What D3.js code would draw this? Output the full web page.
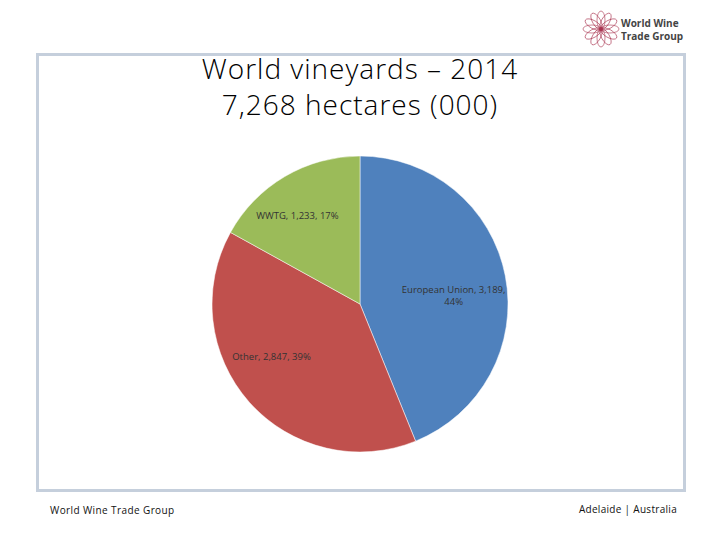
<!DOCTYPE html>
<html>
<head>
<meta charset="utf-8">
<script src="https://cdn.jsdelivr.net/npm/d3@7"></script>
<style>
  body { margin: 0; background: #fff; }
  svg text { font-family: "Open Sans", "Liberation Sans", sans-serif; }
</style>
</head>
<body>
<div id="chart"></div>
<script>
// chart data
const categories = ["European Union", "Other", "WWTG"]
const hectares = [3189, 2847, 1233]
const shares = [44, 39, 17]
const sliceColors = ["#4f81bd", "#c0504d", "#9bbb59"]
const titleLines = ["World vineyards \u2013 2014", "7,268 hectares (000)"]

const width = 720
const height = 540
const center = { x: 360, y: 304 }
const radius = 148

const svg = d3.select("#chart").append("svg")
  .attr("width", width)
  .attr("height", height)

// slide frame
svg.append("rect")
  .attr("x", 37.5).attr("y", 54.5)
  .attr("width", 647).attr("height", 436)
  .attr("fill", "none")
  .attr("stroke", "#c5cfdc")
  .attr("stroke-width", 3)

// title
svg.selectAll(".title")
  .data(titleLines)
  .enter().append("text")
  .attr("class", "title")
  .attr("x", 360)
  .attr("y", (d, i) => 79 + i * 36)
  .attr("text-anchor", "middle")
  .attr("font-size", 28)
  .attr("font-weight", 300)
  .attr("letter-spacing", 1)
  .attr("fill", "#000")
  .text(d => d)

// pie
const data = categories.map((c, i) => ({ name: c, value: hectares[i], pct: shares[i], color: sliceColors[i] }))
const pie = d3.pie().sort(null).value(d => d.value)
const arc = d3.arc().innerRadius(0).outerRadius(radius)
const labelArc = d3.arc().innerRadius(radius * 0.7).outerRadius(radius * 0.7)

const g = svg.append("g").attr("transform", `translate(${center.x},${center.y})`)

const arcs = pie(data)
g.selectAll("path")
  .data(arcs)
  .enter().append("path")
  .attr("d", arc)
  .attr("fill", d => d.data.color)
  .attr("stroke", "#fff")
  .attr("stroke-width", 0.5)

// label offsets tuned by eye
const labelShift = { "European Union": [-8, 12], "Other": [-11, -16], "WWTG": [-10, 1] }
const fmt = d3.format(",")

arcs.forEach(d => {
  const [cx, cy] = labelArc.centroid(d)
  const [sx, sy] = labelShift[d.data.name]
  const lines = d.data.name === "European Union"
    ? [`${d.data.name}, ${fmt(d.data.value)},`, `${d.data.pct}%`]
    : [`${d.data.name}, ${fmt(d.data.value)}, ${d.data.pct}%`]
  const t = g.append("text")
    .attr("text-anchor", "middle")
    .attr("font-size", 9.5)
    .attr("fill", "#333")
  lines.forEach((line, i) => {
    t.append("tspan")
      .attr("x", cx + sx)
      .attr("y", cy + sy + (i - (lines.length - 1) / 2) * 12 + 3)
      .text(line)
  })
})

// logo
const logo = svg.append("g").attr("transform", "translate(601,29)")
d3.range(12).forEach(i => {
  logo.append("ellipse")
    .attr("cx", 0).attr("cy", -9)
    .attr("rx", 4).attr("ry", 9)
    .attr("fill", "none")
    .attr("stroke", "#a8324e")
    .attr("stroke-width", 0.6)
    .attr("transform", `rotate(${i * 30})`)
})
logo.append("circle").attr("r", 2).attr("fill", "#a8324e")
svg.selectAll(".logo-text")
  .data(["World Wine", "Trade Group"])
  .enter().append("text")
  .attr("x", 621)
  .attr("y", (d, i) => 27 + i * 13)
  .attr("font-size", 10)
  .attr("font-weight", "bold")
  .attr("fill", "#444")
  .text(d => d)

// footer
svg.append("text")
  .attr("x", 50).attr("y", 514)
  .attr("font-size", 10)
  .attr("letter-spacing", 0.4)
  .attr("fill", "#111")
  .text("World Wine Trade Group")
svg.append("text")
  .attr("x", 677).attr("y", 513)
  .attr("text-anchor", "end")
  .attr("font-size", 10)
  .attr("letter-spacing", 0.3)
  .attr("fill", "#111")
  .text("Adelaide | Australia")
</script>
</body>
</html>
